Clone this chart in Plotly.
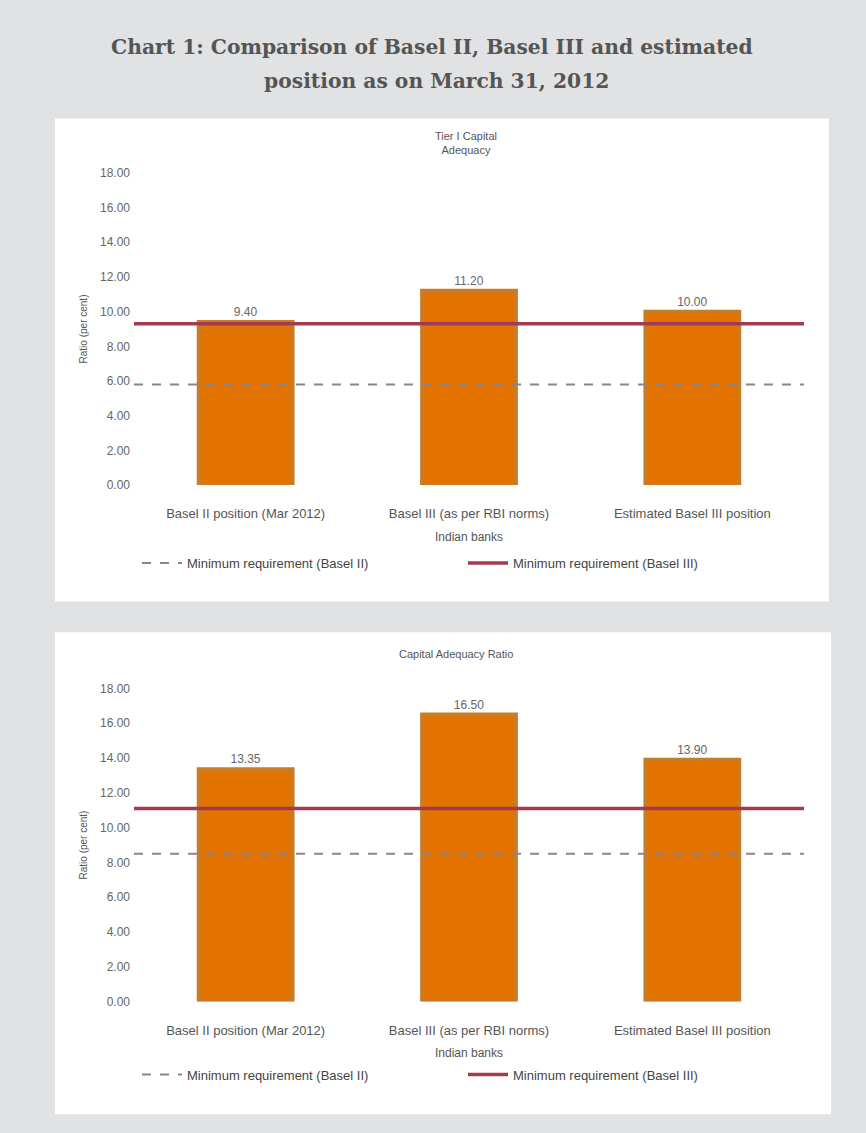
import plotly.graph_objects as go

# ---------------- data ----------------
categories = ["Basel II position (Mar 2012)", "Basel III (as per RBI norms)", "Estimated Basel III position"]
tier1_values = [9.4, 11.2, 10.0]
crar_values = [13.35, 16.5, 13.9]
tier1_min_basel2 = 5.8
tier1_min_basel3 = 9.3
crar_min_basel2 = 8.5
crar_min_basel3 = 11.1
y_ticks = [0, 2, 4, 6, 8, 10, 12, 14, 16, 18]
series_names = ["Minimum requirement (Basel II)", "Minimum requirement (Basel III)"]
panel_titles = ["Tier I Capital<br>Adequacy", "Capital Adequacy Ratio"]
y_title = "Ratio (per cent)"
x_title = "Indian banks"
title_lines = ["Chart 1: Comparison of Basel II, Basel III and estimated",
               "position as on March 31, 2012"]

# ---------------- layout helpers ----------------
W, H = 866, 1133
def px_x(p): return p / W
def px_y(p): return 1 - p / H

x_pos = list(range(len(categories)))
x_ext = [-0.5, len(categories) - 0.5]

BAR = "#e37300"
BAR_EDGE = "#c97c26"
RED = "#a33a52"
GREY = "#8a8490"

fig = go.Figure()

panels = [
    dict(vals=tier1_values, mins=[tier1_min_basel2, tier1_min_basel3], xa="x", ya="y", leg="legend"),
    dict(vals=crar_values, mins=[crar_min_basel2, crar_min_basel3], xa="x2", ya="y2", leg="legend2"),
]

for p in panels:
    fig.add_trace(go.Bar(
        x=x_pos, y=p["vals"], width=0.42,
        marker=dict(color=BAR, line=dict(color=BAR_EDGE, width=4)),
        text=p["vals"], texttemplate="%{y:.2f}", textposition="outside",
        textfont=dict(size=12, color="#666666", family="Arial"),
        cliponaxis=False, showlegend=False, xaxis=p["xa"], yaxis=p["ya"],
    ))
    fig.add_trace(go.Scatter(
        x=x_ext, y=[p["mins"][0]] * 2, mode="lines", name=series_names[0],
        line=dict(color=GREY, width=2, dash="dash"),
        xaxis=p["xa"], yaxis=p["ya"], legend=p["leg"],
    ))
    fig.add_trace(go.Scatter(
        x=x_ext, y=[p["mins"][1]] * 2, mode="lines", name=series_names[1],
        line=dict(color=RED, width=3.5),
        xaxis=p["xa"], yaxis=p["ya"], legend=p["leg"],
    ))

xdom = [px_x(134), px_x(804)]
top_dom = [px_y(484), px_y(168)]
bot_dom = [px_y(1007), px_y(690)]

def xaxis_cfg(anchor):
    return dict(domain=xdom, anchor=anchor, range=x_ext, tickvals=x_pos, ticktext=categories,
                tickfont=dict(size=13, color="#555555", family="Arial"),
                ticklabelstandoff=19,
                showgrid=False, zeroline=False, showline=False, ticks="",
                title=dict(text=x_title, font=dict(size=12, color="#555555", family="Arial"), standoff=12))

def yaxis_cfg(anchor, dom):
    return dict(domain=dom, anchor=anchor, range=[0, 18], tickvals=y_ticks, tickformat=".2f",
                tickfont=dict(size=12, color="#666666", family="Arial"),
                ticklabelstandoff=3,
                showgrid=False, zeroline=False, showline=False, ticks="",
                title=dict(text=y_title, font=dict(size=10, color="#555555", family="Arial"), standoff=10))

shapes = [
    dict(type="rect", xref="paper", yref="paper", x0=px_x(55), x1=px_x(829), y0=px_y(602), y1=px_y(113),
         fillcolor="white", line=dict(width=0), layer="below"),
    dict(type="rect", xref="paper", yref="paper", x0=px_x(55), x1=px_x(831), y0=px_y(1121), y1=px_y(633),
         fillcolor="white", line=dict(width=0), layer="below"),
]

title_font = dict(family="DejaVu Serif", size=20.3, color="#555555")
annotations = [
    dict(text="<b>" + title_lines[0] + "</b>", x=px_x(432), y=px_y(40), xref="paper", yref="paper",
         showarrow=False, xanchor="center", yanchor="middle", font=title_font),
    dict(text="<b>" + title_lines[1] + "</b>", x=px_x(436), y=px_y(75), xref="paper", yref="paper",
         showarrow=False, xanchor="center", yanchor="middle", font=title_font),
    dict(text=panel_titles[0], x=px_x(466), y=px_y(138), xref="paper", yref="paper", showarrow=False,
         xanchor="center", yanchor="middle", font=dict(family="Arial", size=11, color="#555555")),
    dict(text=panel_titles[1], x=px_x(456), y=px_y(655), xref="paper", yref="paper", showarrow=False,
         xanchor="center", yanchor="middle", font=dict(family="Arial", size=11, color="#555555")),
]

legend_common = dict(orientation="h", xanchor="left", yanchor="middle", bgcolor="rgba(0,0,0,0)",
                     font=dict(size=13, color="#444444", family="Arial"),
                     entrywidth=271, entrywidthmode="pixels", itemwidth=40)

fig.update_layout(
    width=W, height=H, margin=dict(l=0, r=0, t=0, b=0),
    paper_bgcolor="#e1e2e4", plot_bgcolor="rgba(0,0,0,0)",
    xaxis=xaxis_cfg("y"), yaxis=yaxis_cfg("x", top_dom),
    xaxis2=xaxis_cfg("y2"), yaxis2=yaxis_cfg("x2", bot_dom),
    shapes=shapes, annotations=annotations,
    legend=dict(x=px_x(137), y=px_y(563), **legend_common),
    legend2=dict(x=px_x(137), y=px_y(1081), **legend_common),
)

fig.write_html("out.html")
